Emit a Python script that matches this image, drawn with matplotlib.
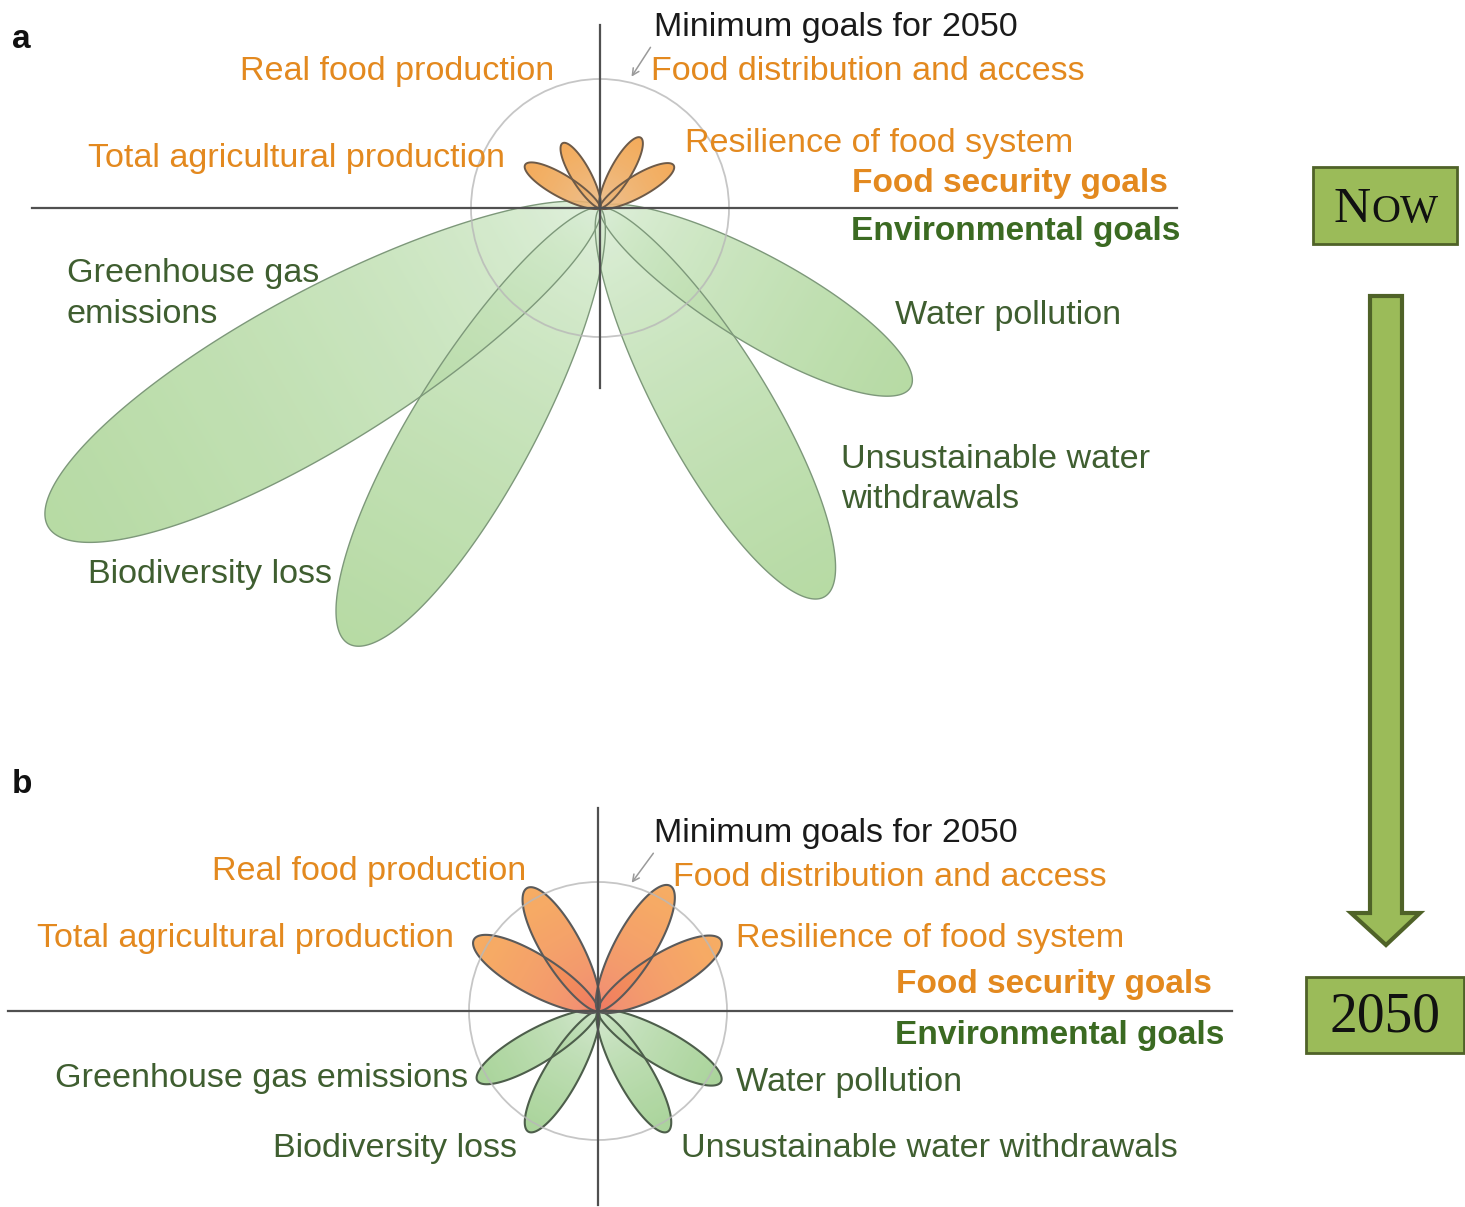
import numpy as np
import matplotlib
matplotlib.use("Agg")
import matplotlib.pyplot as plt
from matplotlib.patches import Polygon, Circle, Rectangle

# ---------------- data ----------------
food_goals = ["Total agricultural production", "Real food production",
              "Food distribution and access", "Resilience of food system"]
env_goals = ["Greenhouse gas emissions", "Biodiversity loss",
             "Unsustainable water withdrawals", "Water pollution"]
food_angles = [150, 120, 60, 30]
env_angles = [210, 240, 300, 330]
# petal length relative to the "minimum goals for 2050" circle (= 1)
food_now = [0.67, 0.58, 0.63, 0.66]
env_now = [4.94, 3.90, 3.48, 2.78]
food_2050 = [1.11, 1.10, 1.12, 1.10]
env_2050 = [1.08, 1.08, 1.08, 1.10]

W, H = 1465, 1207
fig = plt.figure(figsize=(W / 100, H / 100), dpi=100)
ax = fig.add_axes([0, 0, 1, 1])
ax.set_xlim(0, W)
ax.set_ylim(H, 0)
ax.axis("off")

FONT = "Liberation Sans"
ORANGE = "#e3891f"
GREEN_T = "#3f5e30"
GREEN_B = "#3b6a22"


def hex2rgb(h):
    h = h.lstrip("#")
    return np.array([int(h[i:i + 2], 16) / 255 for i in (0, 2, 4)])


def petal(cx, cy, ang, L, ratio, c_center, c_tip, edge, alpha=0.8, lw=1.2, z=2, gexp=0.6):
    a = np.deg2rad(ang)
    u = np.array([np.cos(a), -np.sin(a)])
    n = np.array([np.sin(a), np.cos(a)])
    t = np.linspace(0, 1, 300)
    s = 0.5 - 0.5 * np.cos(np.pi * t)
    w = s ** 0.62 * (1 - s) ** 0.5
    w = w / w.max() * ratio * L / 2
    along = s * L
    left = np.array([cx, cy]) + np.outer(along, u) + np.outer(w, n)
    right = np.array([cx, cy]) + np.outer(along, u) - np.outer(w, n)
    pts = np.vstack([left, right[::-1]])
    x0, y0 = pts.min(axis=0) - 2
    x1, y1 = pts.max(axis=0) + 2
    nx, ny = int(x1 - x0) + 1, int(y1 - y0) + 1
    xs = np.linspace(x0, x1, nx)
    ys = np.linspace(y0, y1, ny)
    X, Y = np.meshgrid(xs, ys)
    sp = np.clip(((X - cx) * u[0] + (Y - cy) * u[1]) / L, 0, 1)
    cc, ct = hex2rgb(c_center), hex2rgb(c_tip)
    f = sp[..., None] ** gexp
    img = np.empty((ny, nx, 4))
    img[..., :3] = cc * (1 - f) + ct * f
    img[..., 3] = alpha
    poly = Polygon(pts, closed=True, fc="none", ec="none")
    ax.add_patch(poly)
    im = ax.imshow(img, extent=(x0, x1, y1, y0), origin="upper",
                   interpolation="bilinear", zorder=z, aspect="auto")
    im.set_clip_path(poly)
    ax.add_patch(Polygon(pts, closed=True, fc="none", ec=edge, lw=lw, zorder=z + 0.1))


def panel(cx, cy, R, food, env, hline, vline, food_cols, env_cols, food_edge, env_edge,
          food_lw, env_lw, food_ratio, env_ratio):
    for ang, v in zip(env_angles, env):
        petal(cx, cy, ang, v * R, env_ratio, env_cols[0], env_cols[1], env_edge,
              alpha=0.8, lw=env_lw, z=2, gexp=0.55)
    for ang, v in zip(food_angles, food):
        petal(cx, cy, ang, v * R, food_ratio, food_cols[0], food_cols[1], food_edge,
              alpha=0.88, lw=food_lw, z=3, gexp=0.6)
    ax.add_patch(Circle((cx, cy), R, fill=False, ec="#b8b8b8", lw=1.3, alpha=0.8, zorder=4))
    ax.plot(hline, [cy, cy], color="#505050", lw=1.6, zorder=5)
    ax.plot([cx, cx], vline, color="#505050", lw=1.6, zorder=5)


# panel a
panel(600, 208, 129, food_now, env_now, [32, 1177], [25, 388],
      ("#e8bf92", "#f3a044"), ("#dff0dd", "#a5d28e"), "#6d5a48", "#7d987a", 1.4, 1.0,
      0.26, 0.245)
# panel b
panel(598, 1011, 129, food_2050, env_2050, [8, 1232], [808, 1205],
      ("#ef7565", "#f6a34e"), ("#d6e8d3", "#95ca82"), "#5a5a5a", "#4d5e4b", 1.5, 1.5,
      0.28, 0.25)

FS = 24.6
FSB = 24.1


def label(x, y, s, color, ha="left", weight="normal", fs=None):
    if fs is None:
        fs = FSB if weight == "bold" else FS
    ax.text(x, y, s, color=color, ha=ha, va="baseline", fontsize=fs,
            family=FONT, fontweight=weight, zorder=6)


# panel a texts
label(12, 48, "a", "#111111", weight="bold", fs=24)
label(654, 36, "Minimum goals for 2050", "#1a1a1a")
label(240, 80, food_goals[1], ORANGE)
label(651, 80, food_goals[2], ORANGE)
label(88, 167, food_goals[0], ORANGE)
label(685, 152, food_goals[3], ORANGE)
label(1168, 192, "Food security goals", ORANGE, ha="right", weight="bold")
label(1180, 240, "Environmental goals", GREEN_B, ha="right", weight="bold")
label(67, 282, "Greenhouse gas", GREEN_T)
label(67, 323, "emissions", GREEN_T)
label(895, 324, env_goals[3], GREEN_T)
label(841, 468, "Unsustainable water", GREEN_T)
label(841, 508, "withdrawals", GREEN_T)
label(88, 583, env_goals[1], GREEN_T)

# panel b texts
label(12, 793, "b", "#111111", weight="bold", fs=24)
label(654, 842, "Minimum goals for 2050", "#1a1a1a")
label(212, 880, food_goals[1], ORANGE)
label(673, 886, food_goals[2], ORANGE)
label(37, 947, food_goals[0], ORANGE)
label(736, 947, food_goals[3], ORANGE)
label(1212, 993, "Food security goals", ORANGE, ha="right", weight="bold")
label(1224, 1044, "Environmental goals", GREEN_B, ha="right", weight="bold")
label(55, 1087, env_goals[0], GREEN_T)
label(736, 1091, env_goals[3], GREEN_T)
label(273, 1157, env_goals[1], GREEN_T)
label(681, 1157, env_goals[2], GREEN_T)

# small pointer arrows to the circle
for (x0, y0, x1, y1) in [(652, 45, 630, 79), (655, 851, 630, 885)]:
    ax.annotate("", xy=(x1, y1), xytext=(x0, y0),
                arrowprops=dict(arrowstyle="->", color="#9a9a9a", lw=1.1,
                                mutation_scale=12), zorder=6)

# timeline boxes and arrow
BOXC = "#9bbb59"
BOXE = "#4f6228"
ax.add_patch(Rectangle((1313, 167), 144, 77, fc=BOXC, ec=BOXE, lw=2, zorder=5))
ax.text(1371, 222, "N", fontsize=37, family="Liberation Serif", ha="right", va="baseline", color="#111", zorder=6)
ax.text(1371, 222, "OW", fontsize=29, family="Liberation Serif", ha="left", va="baseline", color="#111", zorder=6)
ax.add_patch(Rectangle((1306, 977), 158, 76, fc=BOXC, ec=BOXE, lw=2, zorder=5))
ax.text(1385, 1031, "2050", fontsize=40, family="Liberation Serif", ha="center", va="baseline", color="#111", zorder=6)
arrow_pts = [(1370, 296), (1402, 296), (1402, 913), (1420, 913), (1386, 945),
             (1351, 913), (1370, 913)]
ax.add_patch(Polygon(arrow_pts, closed=True, fc=BOXC, ec=BOXE, lw=3, zorder=5, joinstyle="miter"))

fig.savefig("out.png", dpi=100)
